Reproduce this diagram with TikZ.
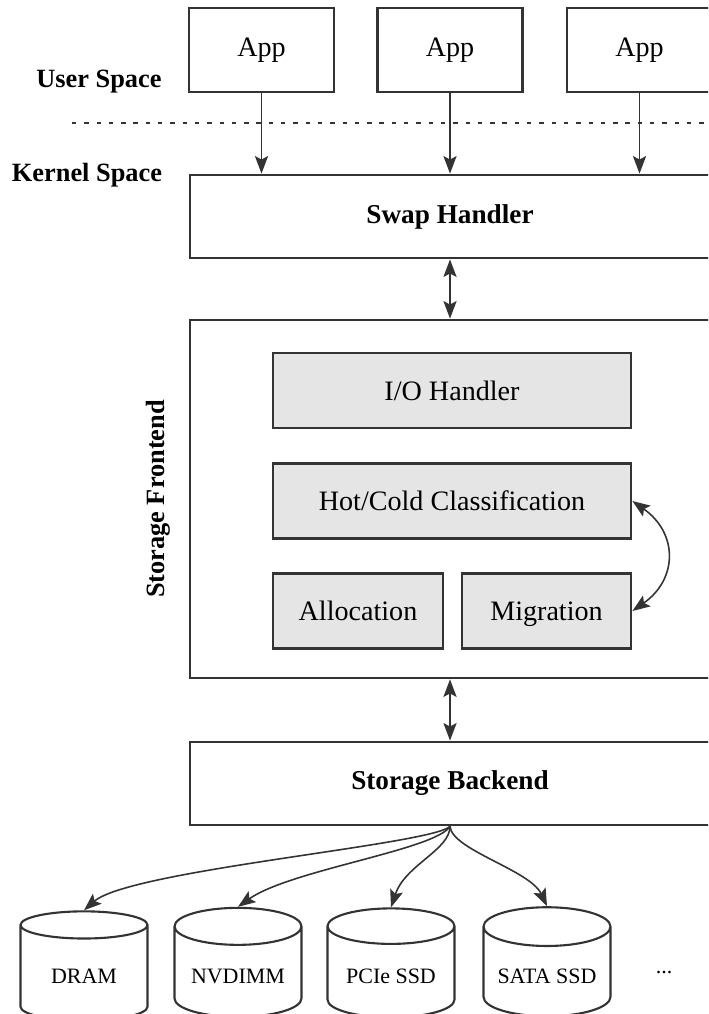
\documentclass[tikz,border=0pt]{standalone}
\usepackage{fontspec}
\setmainfont{Liberation Serif}
\usetikzlibrary{arrows.meta,positioning,shapes.geometric}

\begin{document}
\begin{tikzpicture}[
    x=0.02cm, y=0.02cm,
    font=\fontsize{16}{19}\selectfont,
    >={Stealth[length=10pt, width=7.5pt, inset=2pt]},
    app box/.style={draw=black!80, line width=1.6pt, minimum width=2.9cm, minimum height=1.68cm},
    layer box/.style={draw=black!80, line width=1.6pt, fill=white, minimum width=10.4cm, minimum height=1.66cm, font=\fontsize{15.5}{18}\selectfont\bfseries},
    sub box/.style={draw=black!80, line width=1.6pt, fill=gray!20, minimum height=1.5cm, text depth=0pt},
    disk/.style={cylinder, shape border rotate=90, draw=black!80, line width=1.2pt, aspect=0.35, minimum width=2.54cm, minimum height=2.18cm, font=\fontsize{12.5}{15}\selectfont},
    space label/.style={font=\fontsize{15}{18}\selectfont\bfseries},
    link/.style={->, line width=0.9pt, draw=black!80},
]

\useasboundingbox (0,0) rectangle (708,-1014);
\clip (0,0) rectangle (708,-1014);

% Applications
\node[app box] (app1) at (261.5,-50) {App};
\node[app box] (app2) at (450,-50) {App};
\node[app box] (app3) at (639.5,-50) {App};

% Space labels and separator
\node[space label] (user) at (99,-82) {User Space};
\node[space label] (kernel) at (87,-175) {Kernel Space};
\coordinate (sep left) at (72,-123);
\coordinate (sep right) at (708,-123);
\draw[black!80, line width=0.8pt, dash pattern=on 2.5pt off 4.5pt] (sep left) -- (sep right);

% Swap handler
\node[layer box] (swap) at (450,-216.5) {Swap Handler};
\foreach \a in {app1,app2,app3}
    \draw[link] (\a.south) -- (\a.south |- swap.north);

% Storage frontend
\node[draw=black!80, line width=1.6pt, minimum width=10.4cm, minimum height=7.16cm] (front) at (450,-499) {};
\node[space label, rotate=90] (front label) at (158,-499) {Storage Frontend};
\node[sub box, minimum width=7.16cm] (io) at (452,-390.5) {I/O Handler};
\node[sub box, minimum width=7.16cm] (hot) at (452,-501) {Hot/Cold Classification};
\node[sub box, minimum width=3.4cm] (alloc) at (358,-611) {Allocation};
\node[sub box, minimum width=3.38cm] (migr) at (546.5,-611) {Migration};
\draw[link, <->] (hot.east) to[bend left=55, looseness=1.3] (migr.east);
\draw[link, <->] (swap.south) -- (front.north);

% Storage backend
\node[layer box] (back) at (450,-783.5) {Storage Backend};
\draw[link, <->] (front.south) -- (back.north);

% Devices
\node[disk] (dram) at (84,-976) {DRAM};
\node[disk] (nvdimm) at (238,-976) {NVDIMM};
\node[disk] (pcie) at (391,-976) {PCIe SSD};
\node[disk] (sata) at (547,-976) {SATA SSD};
\node[font=\fontsize{12.5}{15}\selectfont, text depth=0pt] (more) at (664,-972) {...};

\draw[link] (back.south) .. controls (430,-845) and (130,-870) .. (dram.north);
\draw[link] (back.south) .. controls (435,-850) and (290,-870) .. (nvdimm.north);
\draw[link] (back.south) .. controls (450,-850) and (405,-865) .. (pcie.north);
\draw[link] (back.south) .. controls (452,-850) and (530,-870) .. (sata.north);

\end{tikzpicture}
\end{document}
